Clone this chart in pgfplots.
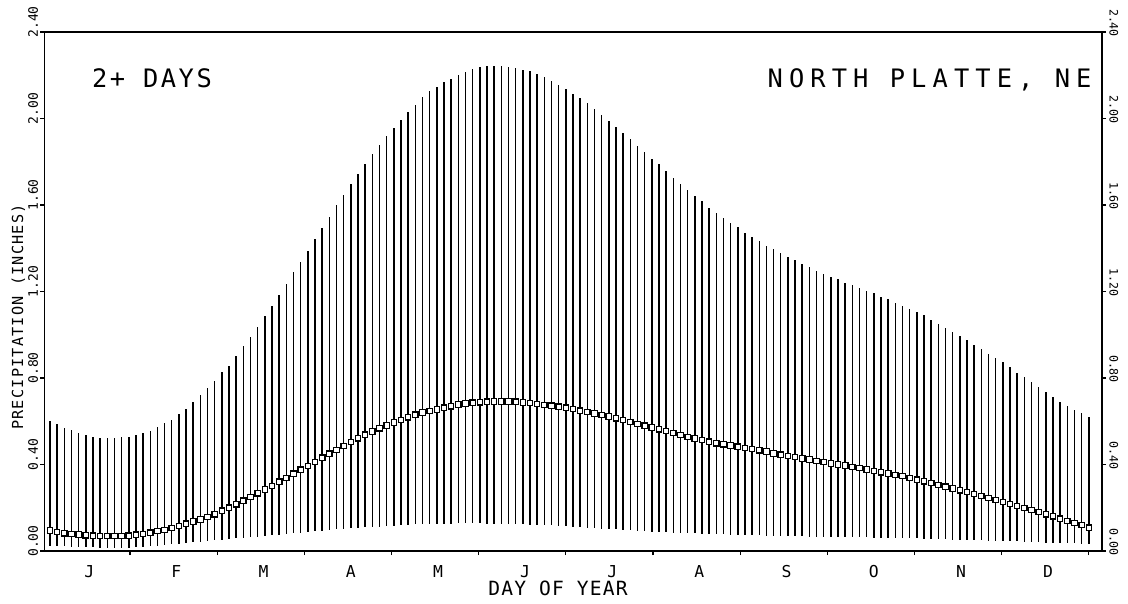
\documentclass[border=0pt]{standalone}
\usepackage{fontspec}
\usepackage{pgfplots}
\usepackage{pgfplotstable}
\pgfplotsset{compat=1.18}
\setmainfont{DejaVu Sans Mono}
\newfontfamily\titlefont[LetterSpace=10]{DejaVu Sans Mono}
\newfontfamily\stationfont[LetterSpace=24]{DejaVu Sans Mono}
\newfontfamily\labfont[LetterSpace=8]{DejaVu Sans Mono}
\newfontfamily\xlabfont[LetterSpace=6]{DejaVu Sans Mono}

\pgfplotstableread{
x lo m hi
2.5 0.023 0.095 0.601
5 0.022 0.087 0.586
7.5 0.021 0.082 0.571
10 0.020 0.079 0.558
12.5 0.019 0.076 0.547
15 0.018 0.073 0.535
17.5 0.017 0.071 0.527
20 0.016 0.070 0.524
22.5 0.015 0.070 0.524
25 0.015 0.070 0.524
27.5 0.015 0.070 0.525
30 0.016 0.071 0.527
32.5 0.018 0.075 0.535
35 0.020 0.078 0.547
37.5 0.022 0.085 0.555
40 0.025 0.092 0.574
42.5 0.028 0.098 0.594
45 0.031 0.106 0.606
47.5 0.034 0.115 0.633
50 0.037 0.126 0.656
52.5 0.040 0.136 0.687
55 0.043 0.146 0.721
57.5 0.046 0.158 0.752
60 0.049 0.170 0.785
62.5 0.052 0.186 0.826
65 0.055 0.200 0.857
67.5 0.058 0.216 0.904
70 0.061 0.233 0.947
72.5 0.064 0.250 0.989
75 0.067 0.267 1.036
77.5 0.070 0.284 1.085
80 0.073 0.301 1.133
82.5 0.076 0.320 1.183
85 0.079 0.338 1.236
87.5 0.082 0.357 1.288
90 0.085 0.376 1.338
92.5 0.088 0.393 1.389
95 0.091 0.412 1.442
97.5 0.094 0.431 1.493
100 0.097 0.450 1.546
102.5 0.100 0.467 1.599
105 0.103 0.485 1.645
107.5 0.105 0.504 1.698
110 0.107 0.521 1.744
112.5 0.109 0.538 1.791
115 0.111 0.553 1.834
117.5 0.113 0.567 1.878
120 0.115 0.580 1.919
122.5 0.117 0.594 1.958
125 0.119 0.606 1.992
127.5 0.121 0.618 2.028
130 0.123 0.630 2.064
132.5 0.124 0.640 2.098
135 0.125 0.648 2.126
137.5 0.126 0.654 2.144
140 0.127 0.663 2.167
142.5 0.127 0.669 2.183
145 0.128 0.677 2.203
147.5 0.128 0.682 2.217
150 0.128 0.686 2.228
152.5 0.128 0.688 2.237
155 0.127 0.690 2.243
157.5 0.127 0.691 2.245
160 0.126 0.691 2.245
162.5 0.125 0.691 2.240
165 0.124 0.690 2.234
167.5 0.123 0.687 2.226
170 0.122 0.684 2.219
172.5 0.121 0.680 2.206
175 0.120 0.676 2.191
177.5 0.118 0.672 2.175
180 0.116 0.667 2.157
182.5 0.114 0.663 2.136
185 0.112 0.656 2.113
187.5 0.110 0.649 2.094
190 0.108 0.643 2.070
192.5 0.106 0.636 2.043
195 0.104 0.629 2.015
197.5 0.102 0.622 1.989
200 0.100 0.614 1.961
202.5 0.098 0.606 1.935
205 0.096 0.597 1.904
207.5 0.094 0.587 1.873
210 0.092 0.579 1.845
212.5 0.090 0.571 1.814
215 0.088 0.563 1.788
217.5 0.087 0.555 1.757
220 0.085 0.545 1.726
222.5 0.084 0.536 1.698
225 0.082 0.528 1.671
227.5 0.081 0.520 1.643
230 0.080 0.513 1.617
232.5 0.079 0.505 1.586
235 0.078 0.498 1.563
237.5 0.077 0.493 1.540
240 0.076 0.488 1.516
242.5 0.075 0.482 1.496
245 0.074 0.477 1.470
247.5 0.073 0.472 1.454
250 0.072 0.466 1.434
252.5 0.071 0.460 1.412
255 0.070 0.451 1.397
257.5 0.070 0.445 1.377
260 0.069 0.439 1.358
262.5 0.068 0.434 1.346
265 0.068 0.428 1.327
267.5 0.067 0.423 1.315
270 0.066 0.416 1.296
272.5 0.066 0.411 1.279
275 0.065 0.405 1.268
277.5 0.065 0.400 1.258
280 0.064 0.395 1.240
282.5 0.064 0.389 1.229
285 0.063 0.383 1.214
287.5 0.063 0.377 1.203
290 0.062 0.370 1.191
292.5 0.062 0.364 1.175
295 0.061 0.358 1.164
297.5 0.061 0.352 1.149
300 0.060 0.346 1.132
302.5 0.059 0.338 1.121
305 0.058 0.330 1.105
307.5 0.057 0.322 1.090
310 0.056 0.314 1.069
312.5 0.055 0.305 1.051
315 0.054 0.297 1.031
317.5 0.053 0.289 1.013
320 0.052 0.281 0.994
322.5 0.051 0.273 0.974
325 0.050 0.264 0.952
327.5 0.049 0.254 0.932
330 0.048 0.245 0.912
332.5 0.047 0.235 0.892
335 0.046 0.226 0.873
337.5 0.045 0.218 0.850
340 0.044 0.208 0.825
342.5 0.042 0.198 0.803
345 0.041 0.190 0.783
347.5 0.040 0.180 0.757
350 0.039 0.170 0.736
352.5 0.037 0.160 0.711
355 0.036 0.149 0.690
357.5 0.035 0.138 0.671
360 0.035 0.129 0.653
362.5 0.034 0.120 0.637
365 0.033 0.108 0.620
}\precip

\begin{document}
\begin{tikzpicture}
\path[use as bounding box] (-22.25pt,-26.5pt) rectangle (541.75pt,275.5pt);
\begin{axis}[
  at={(0,0)}, anchor=south west,
  scale only axis, width=528.75pt, height=259.5pt,
  xmin=0.6, xmax=369.6, ymin=0, ymax=2.4,
  axis line style={line width=0.7pt},
  tick style={line width=0.6pt, black},
  tick align=outside, major tick length=2pt,
  xtick pos=left, ytick pos=left,
  xtick={30.417,60.833,91.25,121.667,152.083,182.5,212.917,243.333,273.75,304.167,334.583,365},
  xticklabels={},
  ytick={0,0.4,0.8,1.2,1.6,2.0,2.4},
  yticklabels={0.00,0.40,0.80,1.20,1.60,2.00,2.40},
  yticklabel style={font=\fontsize{6.5}{7}\selectfont, yshift=5pt, rotate=90, anchor=south, inner sep=1pt},
  clip=false,
]
\addplot[only marks, mark=square*, mark size=1.35pt,
  mark options={fill=white, draw=black, line width=0.6pt},
  error bars/.cd, y dir=both, y explicit, error mark=none,
  error bar style={line width=0.75pt, black}]
  table[x=x, y=m, y error plus expr=\thisrow{hi}-\thisrow{m}, y error minus expr=\thisrow{m}-\thisrow{lo}] {\precip};

\node[anchor=base west, font=\titlefont\fontsize{12.7}{14}\selectfont] at (rel axis cs:0.0383,0.894) {2+ DAYS};
\node[anchor=base east, font=\stationfont\fontsize{12.7}{14}\selectfont, inner sep=0pt] at (rel axis cs:0.9905,0.894) {NORTH PLATTE, NE};
\node[anchor=base, inner sep=0pt, font=\xlabfont\fontsize{9.8}{11}\selectfont] at (rel axis cs:0.4856,-0.086) {DAY OF YEAR};
\node[anchor=base, rotate=90, font=\labfont\fontsize{7.6}{9}\selectfont] at (rel axis cs:-0.0203,0.451) {PRECIPITATION (INCHES)};

\node[anchor=base, inner sep=0pt, font=\fontsize{8.2}{9}\selectfont] at (axis cs:16.2,0) [yshift=-13pt] {J};
\node[anchor=base, inner sep=0pt, font=\fontsize{8.2}{9}\selectfont] at (axis cs:46.6,0) [yshift=-13pt] {F};
\node[anchor=base, inner sep=0pt, font=\fontsize{8.2}{9}\selectfont] at (axis cs:77,0) [yshift=-13pt] {M};
\node[anchor=base, inner sep=0pt, font=\fontsize{8.2}{9}\selectfont] at (axis cs:107.5,0) [yshift=-13pt] {A};
\node[anchor=base, inner sep=0pt, font=\fontsize{8.2}{9}\selectfont] at (axis cs:137.9,0) [yshift=-13pt] {M};
\node[anchor=base, inner sep=0pt, font=\fontsize{8.2}{9}\selectfont] at (axis cs:168.3,0) [yshift=-13pt] {J};
\node[anchor=base, inner sep=0pt, font=\fontsize{8.2}{9}\selectfont] at (axis cs:198.7,0) [yshift=-13pt] {J};
\node[anchor=base, inner sep=0pt, font=\fontsize{8.2}{9}\selectfont] at (axis cs:229.1,0) [yshift=-13pt] {A};
\node[anchor=base, inner sep=0pt, font=\fontsize{8.2}{9}\selectfont] at (axis cs:259.5,0) [yshift=-13pt] {S};
\node[anchor=base, inner sep=0pt, font=\fontsize{8.2}{9}\selectfont] at (axis cs:290,0) [yshift=-13pt] {O};
\node[anchor=base, inner sep=0pt, font=\fontsize{8.2}{9}\selectfont] at (axis cs:320.4,0) [yshift=-13pt] {N};
\node[anchor=base, inner sep=0pt, font=\fontsize{8.2}{9}\selectfont] at (axis cs:350.8,0) [yshift=-13pt] {D};
\end{axis}
\begin{axis}[
  at={(0,0)}, anchor=south west,
  scale only axis, width=528.75pt, height=259.5pt,
  xmin=0.6, xmax=369.6, ymin=0, ymax=2.4,
  axis x line=none, axis y line*=right,
  axis line style={line width=0.7pt, -},
  tick style={line width=0.6pt, black},
  tick align=outside, major tick length=2pt,
  ytick={0,0.4,0.8,1.2,1.6,2.0,2.4},
  yticklabels={0.00,0.40,0.80,1.20,1.60,2.00,2.40},
  yticklabel style={font=\fontsize{5.8}{7}\selectfont, yshift=4.5pt, rotate=-90, anchor=south, inner sep=1.5pt},
]
\end{axis}
\end{tikzpicture}
\end{document}
